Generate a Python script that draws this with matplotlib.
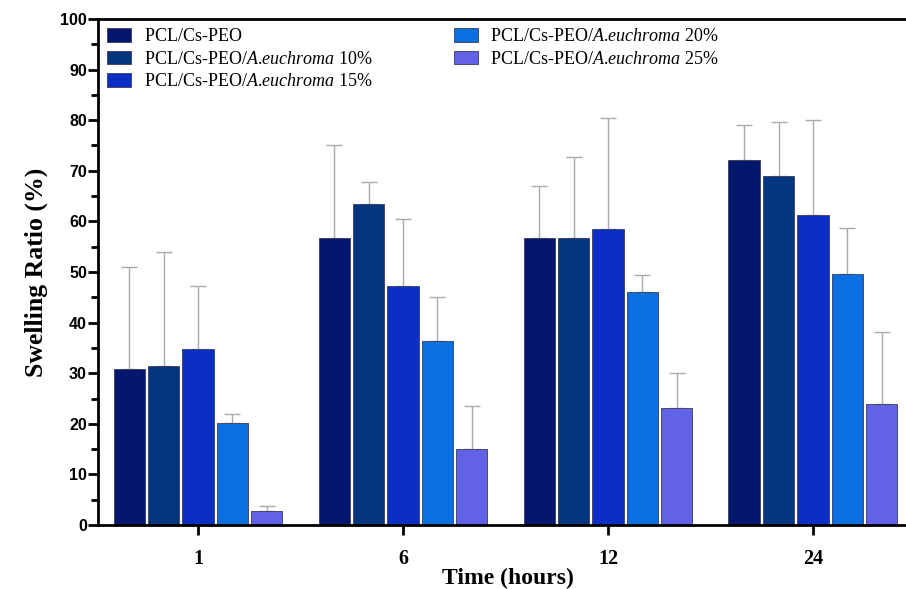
import numpy as np
import matplotlib
matplotlib.use("Agg")
import matplotlib.pyplot as plt
from matplotlib.ticker import MultipleLocator

plt.rcParams['mathtext.fontset'] = 'custom'
plt.rcParams['mathtext.rm'] = 'Liberation Serif'
plt.rcParams['mathtext.it'] = 'Liberation Serif:italic'

times = ["1", "6", "12", "24"]
series = [r"$\text{PCL/Cs-PEO}$",
          r"$\text{PCL/Cs-PEO/}\mathit{A.\!euchroma}\text{ 10%}$",
          r"$\text{PCL/Cs-PEO/}\mathit{A.\!euchroma}\text{ 15%}$",
          r"$\text{PCL/Cs-PEO/}\mathit{A.\!euchroma}\text{ 20%}$",
          r"$\text{PCL/Cs-PEO/}\mathit{A.\!euchroma}\text{ 25%}$"]
means = [
    [30.8, 56.7, 56.7, 72.2],
    [31.4, 63.4, 56.7, 69.0],
    [34.7, 47.2, 58.4, 61.2],
    [20.2, 36.4, 46.0, 49.7],
    [2.7, 15.0, 23.2, 24.0],
]
upper = [
    [51.0, 75.0, 67.0, 79.0],
    [54.0, 67.8, 72.7, 79.7],
    [47.2, 60.4, 80.5, 80.0],
    [22.0, 45.0, 49.5, 58.6],
    [3.8, 23.5, 30.0, 38.1],
]
colors = ["#04166e", "#04367f", "#0a2ec6", "#0a6fe0", "#6262e6"]

fig = plt.figure(figsize=(9.06, 5.89), dpi=100)
ax = fig.add_axes([98/906, 1-525/589, 1-98/906, (525-19)/589])

x = np.arange(len(times))
step = 0.168
width = 0.152
for i, (m, u, c, lab) in enumerate(zip(means, upper, colors, series)):
    pos = x + (i - 2) * step
    m = np.array(m); u = np.array(u)
    ax.bar(pos, m, width, color=c, edgecolor="#3a3a5a", linewidth=0.6, label=lab, zorder=2)
    ax.errorbar(pos, m, yerr=[np.zeros_like(m), u - m], fmt="none", ecolor="#aaaaaa",
                elinewidth=1.0, capsize=6, capthick=1.0, zorder=1)

ax.set_xlim(-0.488, 3.454)
ax.set_ylim(0, 100)
ax.set_xticks(x)
ax.set_xticklabels(times, fontfamily="Liberation Serif", fontweight="bold", fontsize=14.5)
ax.yaxis.set_major_locator(MultipleLocator(10))
ax.yaxis.set_minor_locator(MultipleLocator(5))
for lbl in ax.get_yticklabels():
    lbl.set_fontfamily("Liberation Sans")
    lbl.set_fontweight("bold")
    lbl.set_fontsize(11.5)
ax.tick_params(axis="y", which="major", length=7, width=2, pad=1)
ax.tick_params(axis="y", which="minor", length=5, width=2)
ax.tick_params(axis="x", which="major", length=7, width=2, pad=10)
for s in ["left", "bottom", "top"]:
    ax.spines[s].set_linewidth(2)
ax.spines["right"].set_visible(False)

ax.set_xlabel("Time (hours)", fontfamily="Liberation Serif", fontweight="bold", fontsize=17, labelpad=0)
ax.xaxis.set_label_coords(0.507, -0.084)
ax.set_ylabel("Swelling Ratio (%)", fontfamily="Liberation Serif", fontweight="bold", fontsize=18.5, labelpad=9)

leg = ax.legend(ncol=2, loc="upper left", bbox_to_anchor=(0.0, 1.0), frameon=False,
                prop={"family": "Liberation Serif", "size": 13},
                handlelength=1.33, handleheight=0.8, columnspacing=4.5,
                labelspacing=0.3, handletextpad=0.7, borderaxespad=0.1)

fig.savefig("out.png", dpi=100)
